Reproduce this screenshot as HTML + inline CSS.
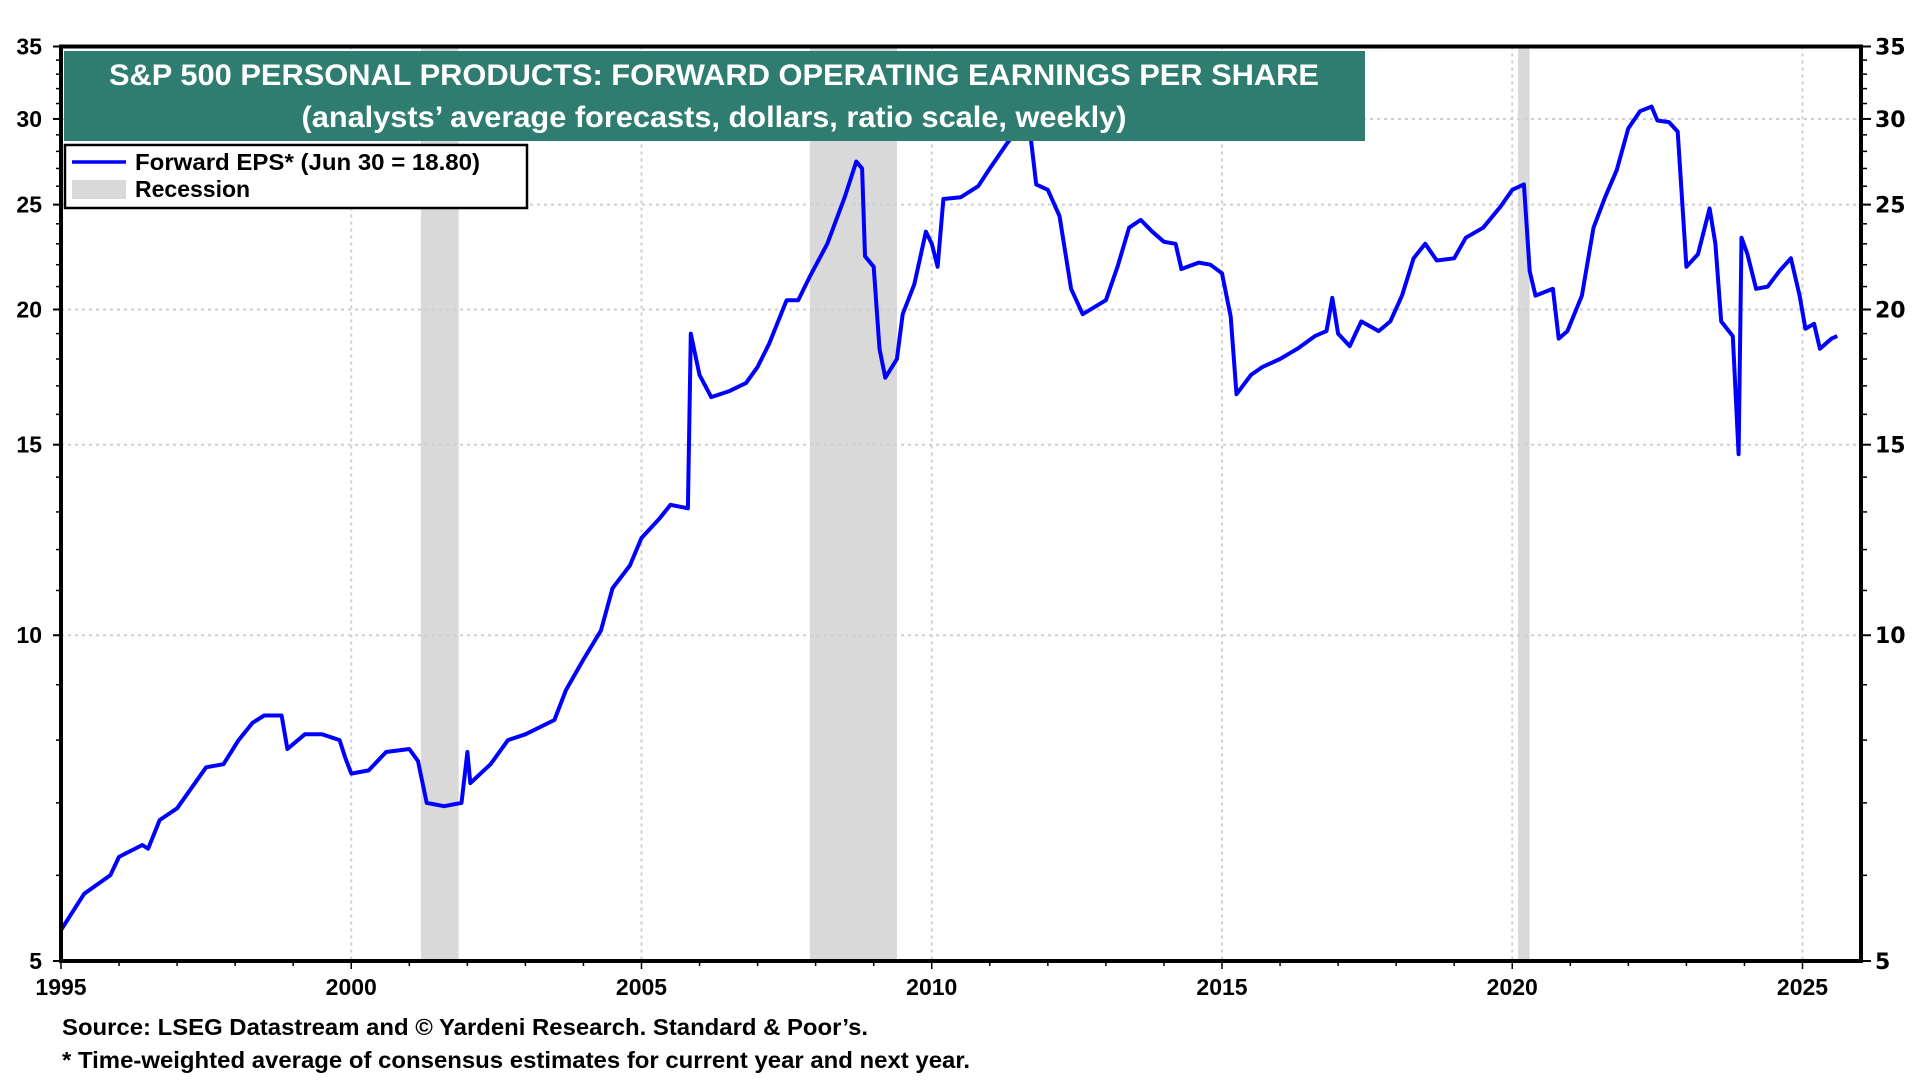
<!DOCTYPE html>
<html><head><meta charset="utf-8"><style>
html,body{margin:0;padding:0;background:#fff;width:1920px;height:1080px;overflow:hidden}
svg{display:block;font-family:"Liberation Sans",Arial,sans-serif;font-weight:bold}
</style></head><body>
<svg id="chart" width="1920" height="1080" viewBox="0 0 1920 1080" xmlns="http://www.w3.org/2000/svg"></svg>
<script>
const years=[1995.0,1995.4,1995.85,1996.0,1996.4,1996.5,1996.7,1997.0,1997.5,1997.8,1998.06,1998.3,1998.5,1998.8,1998.9,1999.2,1999.5,1999.8,1999.9,2000.0,2000.3,2000.6,2001.0,2001.15,2001.3,2001.6,2001.9,2002.0,2002.05,2002.4,2002.7,2003.0,2003.5,2003.7,2004.0,2004.3,2004.5,2004.8,2005.0,2005.3,2005.5,2005.8,2005.85,2006.0,2006.2,2006.5,2006.8,2007.0,2007.2,2007.5,2007.7,2007.9,2008.2,2008.5,2008.7,2008.8,2008.85,2009.0,2009.1,2009.2,2009.4,2009.5,2009.7,2009.9,2010.0,2010.1,2010.2,2010.5,2010.8,2011.0,2011.3,2011.5,2011.7,2011.8,2012.0,2012.2,2012.4,2012.6,2012.8,2013.0,2013.2,2013.4,2013.6,2013.8,2014.0,2014.2,2014.3,2014.6,2014.8,2015.0,2015.15,2015.25,2015.5,2015.7,2016.0,2016.3,2016.6,2016.8,2016.9,2017.0,2017.2,2017.4,2017.7,2017.9,2018.1,2018.3,2018.5,2018.7,2019.0,2019.2,2019.5,2019.8,2020.0,2020.2,2020.3,2020.4,2020.7,2020.8,2020.95,2021.2,2021.4,2021.6,2021.8,2022.0,2022.2,2022.4,2022.5,2022.7,2022.85,2023.0,2023.2,2023.4,2023.5,2023.6,2023.7,2023.8,2023.9,2023.95,2024.05,2024.2,2024.4,2024.6,2024.8,2024.95,2025.05,2025.2,2025.3,2025.5,2025.6];
const eps=[5.34,5.77,6.0,6.24,6.4,6.35,6.75,6.92,7.55,7.6,8.0,8.3,8.43,8.43,7.85,8.1,8.1,8.0,7.7,7.45,7.5,7.8,7.85,7.65,7.0,6.95,7.0,7.8,7.3,7.6,8.0,8.1,8.35,8.9,9.5,10.1,11.05,11.6,12.3,12.8,13.2,13.1,19.0,17.4,16.6,16.8,17.1,17.7,18.6,20.4,20.4,21.45,23.0,25.4,27.4,27.0,22.4,21.9,18.4,17.3,18.0,19.8,21.1,23.6,23.0,21.9,25.3,25.4,26.0,27.0,28.5,29.4,29.0,26.1,25.8,24.4,20.9,19.8,20.1,20.4,21.9,23.8,24.2,23.6,23.1,23.0,21.8,22.1,22.0,21.6,19.7,16.7,17.4,17.7,18.0,18.4,18.9,19.1,20.5,19.0,18.5,19.5,19.1,19.5,20.6,22.3,23.0,22.2,22.3,23.3,23.8,24.9,25.8,26.1,21.7,20.6,20.9,18.8,19.1,20.6,23.8,25.4,26.9,29.4,30.5,30.8,29.9,29.8,29.2,21.9,22.5,24.8,23.0,19.5,19.2,18.9,14.7,23.3,22.5,20.9,21.0,21.7,22.3,20.6,19.2,19.4,18.4,18.8,18.9];
const recStart=[2001.2,2007.9,2020.1];
const recEnd=[2001.85,2009.4,2020.3];
const yTicks=[5,10,15,20,25,30,35];
const xTicks=[1995,2000,2005,2010,2015,2020,2025];

const L=61,R=1861,T=46.5,B=961;
const X=y=>L+(y-1995)*(1802.5-61)/30;
const Y=v=>B-(Math.log(v/5)/Math.log(7))*(B-T);
const svg=document.getElementById('chart');
const NS='http://www.w3.org/2000/svg';
function mk(tag,attrs,parent){const e=document.createElementNS(NS,tag);for(const k in attrs)e.setAttribute(k,attrs[k]);(parent||svg).appendChild(e);return e;}

recStart.forEach((s,i)=>{
  const r=mk('rect',{x:X(s),y:T,width:X(recEnd[i])-X(s),height:B-T,fill:'#d9d9d9'});
  
  
});
yTicks.forEach(v=>{ if(v>5&&v<35){const g=mk('line',{x1:L,x2:R,y1:Y(v),y2:Y(v),stroke:'#cfcfcf','stroke-width':2,'stroke-dasharray':'3 4'});
  
  }});
xTicks.forEach(t=>{ if(t>1995){const g=mk('line',{x1:X(t),x2:X(t),y1:T,y2:B,stroke:'#cfcfcf','stroke-width':2,'stroke-dasharray':'3 4'});
  
  }});
const minor=[6,7,8,9,11,12,13,14,16,17,18,19,21,22,23,24,26,27,28,29,31,32,33,34];
minor.forEach(v=>{mk('line',{x1:L-5,x2:L,y1:Y(v),y2:Y(v),stroke:'#000','stroke-width':1.5});mk('line',{x1:R,x2:R+6,y1:Y(v),y2:Y(v),stroke:'#000','stroke-width':1.5});});
yTicks.forEach(v=>{
  mk('line',{x1:L-8,x2:L,y1:Y(v),y2:Y(v),stroke:'#000','stroke-width':2});
  mk('line',{x1:R,x2:R+10,y1:Y(v),y2:Y(v),stroke:'#000','stroke-width':2});
  const a=mk('text',{x:L-19,y:Y(v)+8,'text-anchor':'end','font-size':23});a.textContent=v;
  
  
  const b=mk('text',{x:R+14,y:Y(v)+8,'font-size':22,'font-family':'DejaVu Sans'});b.textContent=v;
  
  
});
for(let yr=1995;yr<=2025;yr++){mk('line',{x1:X(yr),x2:X(yr),y1:B,y2:B+(yr%5==0?8:5),stroke:'#000','stroke-width':1.5});}
xTicks.forEach(t=>{const a=mk('text',{x:X(t),y:B+34,'text-anchor':'middle','font-size':23});a.textContent=t;
  
  });
const pts=years.map((y,i)=>X(y).toFixed(1)+','+Y(eps[i]).toFixed(1)).join(' ');
const line=mk('polyline',{points:pts,fill:'none',stroke:'#0000ff','stroke-width':4,'stroke-linejoin':'round'});


const fr=mk('rect',{x:L,y:T,width:R-L,height:B-T,fill:'none',stroke:'#000','stroke-width':4});


const tb=mk('rect',{x:64,y:51,width:1301,height:90,fill:'#2e7d70'});


const t1=mk('text',{x:714,y:85,'text-anchor':'middle','font-size':30,fill:'#fff',textLength:1210,lengthAdjust:'spacingAndGlyphs'});t1.textContent='S&P 500 PERSONAL PRODUCTS: FORWARD OPERATING EARNINGS PER SHARE';


const t2=mk('text',{x:714,y:127,'text-anchor':'middle','font-size':30,fill:'#fff',textLength:825,lengthAdjust:'spacingAndGlyphs'});t2.textContent='(analysts\u2019 average forecasts, dollars, ratio scale, weekly)';


const lg=mk('rect',{x:65,y:145,width:462,height:63,fill:'#fff',stroke:'#000','stroke-width':2.5});


mk('line',{x1:72,x2:126,y1:162,y2:162,stroke:'#0000ff','stroke-width':3.5});
const l1=mk('text',{x:135,y:170,'font-size':23,textLength:345,lengthAdjust:'spacingAndGlyphs'});l1.textContent='Forward EPS* (Jun 30 = 18.80)';


mk('rect',{x:72,y:180,width:54,height:19,fill:'#d9d9d9'});
const l2=mk('text',{x:135,y:197,'font-size':23});l2.textContent='Recession';


const f1=mk('text',{x:62,y:1035,'font-size':23,textLength:806,lengthAdjust:'spacingAndGlyphs'});f1.textContent='Source: LSEG Datastream and \u00a9 Yardeni Research. Standard & Poor\u2019s.';


const f2=mk('text',{x:62,y:1068,'font-size':23,textLength:908,lengthAdjust:'spacingAndGlyphs'});f2.textContent='* Time-weighted average of consensus estimates for current year and next year.';


</script>
</body></html>
